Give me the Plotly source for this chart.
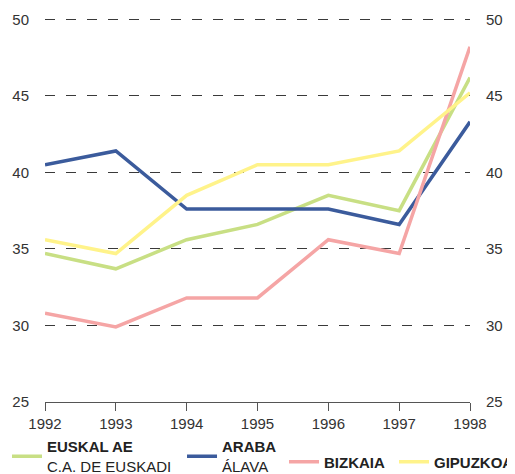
import plotly.graph_objects as go

years = [1992, 1993, 1994, 1995, 1996, 1997, 1998]
euskal_ae = [34.7, 33.7, 35.6, 36.6, 38.5, 37.5, 46.2]
araba = [40.5, 41.4, 37.6, 37.6, 37.6, 36.6, 43.3]
bizkaia = [30.8, 29.9, 31.8, 31.8, 35.6, 34.7, 48.2]
gipuzkoa = [35.6, 34.7, 38.5, 40.5, 40.5, 41.4, 45.2]
y_ticks = [25, 30, 35, 40, 45, 50]

series = [
    ("<b>EUSKAL AE</b><br>C.A. DE EUSKADI", euskal_ae, "#c8df84", "legend"),
    ("<b>ARABA</b><br>ÁLAVA", araba, "#3b5b9c", "legend2"),
    ("<b>BIZKAIA</b>", bizkaia, "#f5a5a5", "legend3"),
    ("<b>GIPUZKOA</b>", gipuzkoa, "#fff38a", "legend4"),
]

fig = go.Figure()
for name, vals, color, leg in series:
    fig.add_trace(go.Scatter(
        x=years, y=vals, name=name, mode="lines", legend=leg,
        line=dict(color=color, width=3.5),
    ))

# invisible trace so the right-hand axis is drawn
fig.add_trace(go.Scatter(x=years, y=euskal_ae, yaxis="y2", mode="lines",
                         line=dict(width=0), showlegend=False, hoverinfo="skip"))

sans = "Liberation Sans, Arial, sans-serif"
tickfont = dict(family=sans, size=15, color="#333")
legfont = dict(family=sans, size=15, color="#222")


def leg(x, y):
    return dict(orientation="h", x=x, xanchor="left", y=y, yanchor="middle",
                font=legfont, bgcolor="rgba(0,0,0,0)")


# the page puts the figure 8px in from the top-left corner, so the figure is
# 8px smaller than the window and the margins are shifted by 8px
# (range top a bit above 50 so the 50 gridline is not dropped at the edge)
fig.update_layout(
    width=507, height=466,
    margin=dict(l=37, r=45, t=9, b=72, autoexpand=False),
    plot_bgcolor="white", paper_bgcolor="white",
    font=dict(family=sans, color="#222"),
    xaxis=dict(
        range=[1992, 1998], tickvals=years, showgrid=False, zeroline=False,
        showline=True, linecolor="#555", linewidth=1.2,
        ticks="outside", ticklen=8, tickcolor="#555", tickwidth=1.2,
        tickfont=dict(family="Liberation Sans Narrow, Arial Narrow, sans-serif", size=15, color="#333"),
    ),
    yaxis=dict(
        range=[25, 50.15], tickvals=y_ticks, showgrid=True,
        gridcolor="#3a3a3a", griddash="10px,11px", gridwidth=1.4, zeroline=False,
        showline=False, ticks="", tickfont=tickfont, ticklabelstandoff=15,
    ),
    yaxis2=dict(
        range=[25, 50.15], tickvals=y_ticks, overlaying="y",
        side="right", showgrid=False, zeroline=False, showline=False, ticks="",
        tickfont=tickfont, ticklabelstandoff=15,
    ),
    legend=leg(-0.0894, -0.1406),
    legend2=leg(0.3224, -0.1406),
    legend3=leg(0.5624, -0.156),
    legend4=leg(0.8212, -0.156),
)

fig.write_html("out.html")
